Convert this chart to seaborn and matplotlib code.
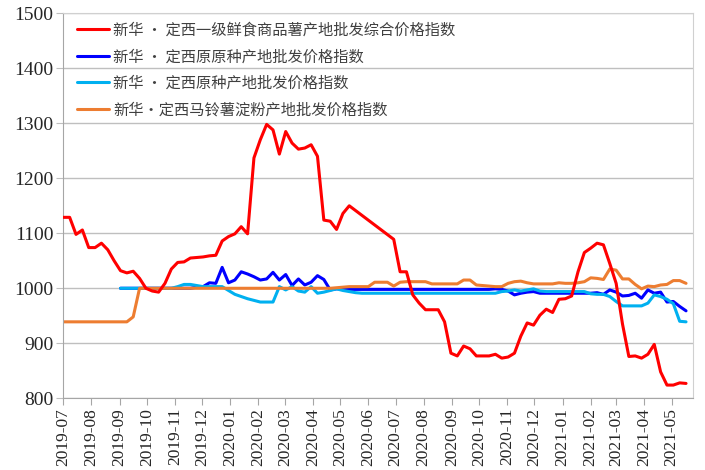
import numpy as np
import pandas as pd
import matplotlib
matplotlib.use("Agg")
import matplotlib.pyplot as plt
import matplotlib.dates as mdates
import seaborn as sns

nan = np.nan

# weekly index, 2019-07-01 .. 2021-05-17
dates = pd.date_range("2019-07-01", periods=99, freq="7D")

labels = [
    "新华 • 定西一级鲜食商品薯产地批发综合价格指数",
    "新华 • 定西原原种产地批发价格指数",
    "新华 • 定西原种产地批发价格指数",
    "新华•定西马铃薯淀粉产地批发价格指数",
]
colors = ["#FF0000", "#0000FF", "#00B0F0", "#ED7D31"]

red = [1129, 1129, 1098, 1106, 1074, 1074, 1082, 1070, 1050, 1032,
       1028, 1031, 1018, 1000, 995, 993, 1009, 1035, 1047, 1048,
       1055, 1056, 1057, 1059, 1060, 1086, 1094, 1099, 1112, 1099,
       1237, 1270, 1298, 1288, 1244, 1285, 1264, 1253, 1255, 1261,
       1240, 1124, 1122, 1107, 1136, 1150, nan, nan, nan, nan,
       nan, nan, 1089, 1030, 1030, 988, 973, 961, 961, 961,
       939, 882, 877, 895, 890, 877, 877, 877, 880, 873,
       875, 882, 913, 937, 933, 951, 962, 956, 980, 981,
       986, 1030, 1065, 1073, 1082, 1079, 1045, 1009, 935, 876,
       877, 873, 880, 898, 848, 824, 824, 828, 827]

blue = [nan, nan, nan, nan, nan, nan, nan, nan, nan, 1000,
        1000, 1000, 1000, 1000, 1000, 1000, 1000, 1000, 1000, 1000,
        1000, 1002, 1003, 1010, 1009, 1038, 1010, 1015, 1030, 1026,
        1021, 1015, 1017, 1029, 1015, 1025, 1005, 1017, 1006, 1011,
        1023, 1016, 997, 999, 999, 998, 998, 998, 998, 998,
        998, 998, 998, 998, 998, 998, 998, 998, 998, 998,
        998, 998, 998, 998, 998, 998, 998, 998, 999, 998,
        995, 988, 991, 993, 994, 991, 991, 991, 991, 991,
        991, 991, 991, 991, 992, 989, 997, 993, 986, 987,
        991, 982, 997, 991, 993, 975, 976, 967, 959]

cyan = [nan, nan, nan, nan, nan, nan, nan, nan, nan, 1000,
        1000, 1000, 1000, 1000, 1000, 1000, 1000, 1000, 1003, 1007,
        1007, 1005, 1003, 1003, 1003, 1003, 996, 989, 985, 981,
        978, 975, 975, 975, 1003, 997, 1003, 995, 993, 1003,
        991, 993, 996, 999, 996, 994, 992, 991, 991, 991,
        991, 991, 991, 991, 991, 991, 991, 991, 991, 991,
        991, 991, 991, 991, 991, 991, 991, 991, 991, 994,
        995, 997, 995, 997, 999, 995, 994, 994, 994, 994,
        994, 994, 994, 990, 989, 989, 985, 976, 968, 968,
        968, 968, 973, 988, 985, 980, 972, 940, 939]

orange = [939, 939, 939, 939, 939, 939, 939, 939, 939, 939,
          939, 948, 1000, 1000, 1000, 1000, 1000, 1000, 1000, 1000,
          1000, 1000, 1000, 1000, 1000, 1000, 1000, 1000, 1000, 1000,
          1000, 1000, 1000, 1000, 1000, 1000, 1000, 1000, 1000, 1000,
          1000, 1000, 1000, 1001, 1002, 1003, 1003, 1003, 1003, 1011,
          1011, 1011, 1004, 1011, 1012, 1012, 1012, 1012, 1008, 1008,
          1008, 1008, 1008, 1015, 1015, 1006, 1005, 1004, 1003, 1003,
          1009, 1012, 1013, 1010, 1008, 1008, 1008, 1008, 1010, 1009,
          1009, 1010, 1012, 1019, 1018, 1016, 1035, 1033, 1017, 1017,
          1007, 999, 1004, 1003, 1006, 1007, 1014, 1014, 1009]

df = pd.DataFrame({"date": dates, labels[0]: red, labels[1]: blue,
                   labels[2]: cyan, labels[3]: orange})
df = df.melt(id_vars="date", var_name="series", value_name="value").dropna()

sns.set_style("white")
plt.rcParams["font.family"] = ["Noto Sans CJK SC", "DejaVu Sans"]

fig, ax = plt.subplots(figsize=(7.05, 4.7), dpi=100)
fig.subplots_adjust(left=0.0898, right=0.9834, top=0.9717, bottom=0.1526)

sns.lineplot(data=df, x="date", y="value", hue="series", hue_order=labels,
             palette=colors, linewidth=2.2, estimator=None, ax=ax)

# red line above the others
for line in ax.get_lines():
    if line.get_color() == "#FF0000" or line.get_color() == "#ff0000":
        line.set_zorder(3)

ax.set_ylim(800, 1500)
ax.set_yticks(range(800, 1501, 100))
ax.set_xlim(pd.Timestamp("2019-07-01"), pd.Timestamp("2021-05-25"))
ax.xaxis.set_major_locator(mdates.MonthLocator())
ax.xaxis.set_major_formatter(mdates.DateFormatter("%Y-%m"))
ax.set_xlabel("")
ax.set_ylabel("")

ax.grid(axis="y", color="#BFBFBF", linewidth=1)
ax.tick_params(axis="x", bottom=True, length=5, color="#A6A6A6", labelrotation=90,
               labelsize=12.5, labelfontfamily="Liberation Serif", labelcolor="#262626", pad=2)
ax.tick_params(axis="y", left=True, length=5, color="#BFBFBF",
               labelsize=14, labelfontfamily="Liberation Serif", labelcolor="#262626", pad=2)
for side in ["top", "right"]:
    ax.spines[side].set_color("#D0D0D0")
for side in ["left", "bottom"]:
    ax.spines[side].set_color("#A6A6A6")

ax.legend(loc="upper left", bbox_to_anchor=(0.008, 1.0), frameon=False, fontsize=11,
          handlelength=2.1, handletextpad=0.3, labelspacing=0.62, borderaxespad=0.15,
          labelcolor="#404040")

fig.savefig("out.png", dpi=100)
